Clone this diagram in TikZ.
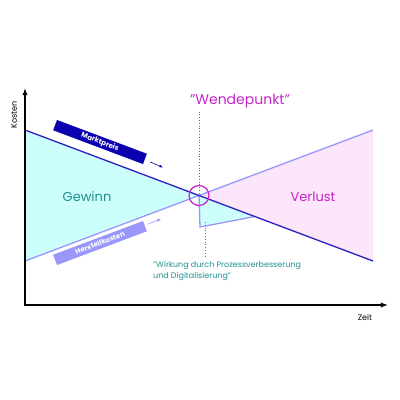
\documentclass[tikz,border=0pt]{standalone}
\usepackage{fontspec}
\setmainfont{Poppins}
\usetikzlibrary{arrows.meta,positioning}
\definecolor{priceblue}{HTML}{2B1FC4}
\definecolor{pricebox}{HTML}{0A00B0}
\definecolor{costblue}{HTML}{9A96FA}
\definecolor{gaincyan}{HTML}{CCFFFC}
\definecolor{losspink}{HTML}{FBE6FB}
\definecolor{turnmag}{HTML}{C424C8}
\definecolor{noteteal}{HTML}{1E9090}

\begin{document}
\begin{tikzpicture}[
  x=1pt, y=-1pt,
  axis/.style={-{Latex[length=2.5mm]}, line width=1.8pt},
  curve/.style={line width=1.3pt},
  tag/.style={rectangle, minimum width=96pt, minimum height=11pt, inner sep=0pt, text=white, font=\bfseries\fontsize{7}{8}\selectfont},
  hint/.style={-{Latex[length=1.3mm]}, semithick},
  region/.style={font=\fontsize{13}{15}\selectfont}
]
\useasboundingbox (0,0) rectangle (400,400);
\coordinate (origin) at (25,305);
\coordinate (ytop) at (25,88);
\coordinate (xend) at (388,305);
\coordinate (pstart) at (25,130);
\coordinate (pend) at (373,261);
\coordinate (cstart) at (25,261);
\coordinate (cend) at (373,130);
\coordinate (turn) at (199,195.5);
\coordinate (gapfoot) at (200,227);
\coordinate (gaptip) at (255,216.5);
\coordinate (gapmark) at (205,222);
% areas
\fill[gaincyan] (pstart) -- (turn) -- (cstart) -- cycle;
\fill[losspink] (turn) -- (cend) -- (pend) -- cycle;
\fill[gaincyan] (turn) -- (gapfoot) -- (gaptip) -- cycle;
% lines
\draw[costblue, curve] (turn) -- (gapfoot) -- (gaptip);
\draw[costblue, curve] (cstart) -- (cend);
\draw[priceblue, curve] (pstart) -- (pend);
\draw[axis] (origin) -- (ytop);
\draw[axis] ([xshift=-0.9pt]origin) -- (xend);
\node[rotate=90, font=\fontsize{8}{9}\selectfont] (kosten) at (14,115) {Kosten};
\node[font=\fontsize{8}{9}\selectfont] (zeit) at (365,317) {Zeit};
% labels
\node[tag, fill=pricebox, rotate=-20.6] (pricetag) at (100,142) {Marktpreis};
\node[tag, fill=costblue, rotate=20.6] (costtag) at (100,243) {Herstellkosten};
\draw[hint, pricebox] ([shift={(5,3)}]pricetag.east) -- ++(13,5.5);
\draw[hint, costblue] ([shift={(3,-2)}]costtag.east) -- ++(13,-5);
\node[region, text=noteteal] (gewinn) at (87,197) {Gewinn};
\node[region, text=turnmag] (verlust) at (313,197) {Verlust};
\node[text=turnmag, font=\fontsize{14}{16}\selectfont] (wende) at (240,101) {"Wendepunkt"};
\node[circle, draw=turnmag, line width=1.2pt, minimum size=20pt, inner sep=0pt] (ring) at (turn) {};
\draw[turnmag, dotted, thick] (wende.south -| turn) -- (turn);
\node[anchor=north west, align=left, text=noteteal, inner sep=0pt, font=\fontsize{8}{11}\selectfont] (note) at (153,261) {"Wirkung durch Prozessverbesserung\\und Digitalisierung"};
\draw[noteteal, dotted, thick] (gapmark) -- ([yshift=3pt]gapmark |- note.north);
\end{tikzpicture}
\end{document}
